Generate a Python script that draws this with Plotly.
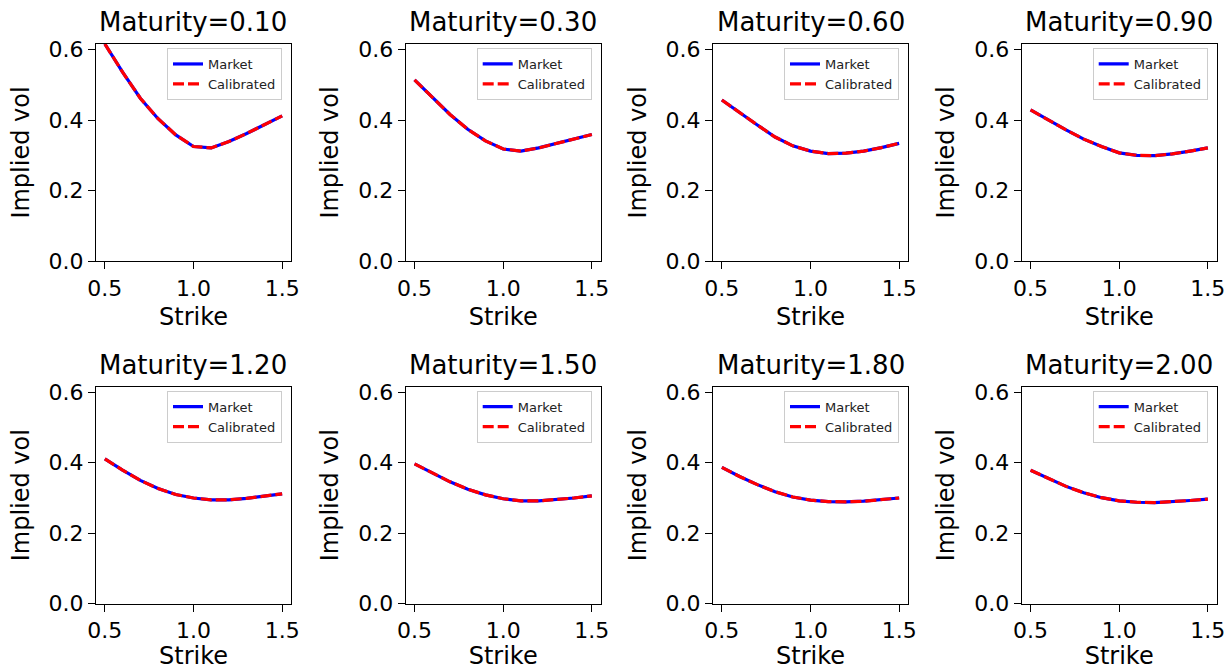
import plotly.graph_objects as go

# ---------------- data ----------------
strikes = [0.5, 0.6, 0.7, 0.8, 0.9, 1.0, 1.1, 1.2, 1.3, 1.4, 1.5]
maturities = [0.10, 0.30, 0.60, 0.90, 1.20, 1.50, 1.80, 2.00]

market_T010 = [0.616, 0.536, 0.462, 0.404, 0.358, 0.325, 0.321, 0.339, 0.362, 0.387, 0.412]
market_T030 = [0.514, 0.465, 0.416, 0.374, 0.341, 0.318, 0.312, 0.321, 0.333, 0.346, 0.359]
market_T060 = [0.457, 0.421, 0.386, 0.352, 0.327, 0.312, 0.305, 0.306, 0.312, 0.322, 0.334]
market_T090 = [0.429, 0.400, 0.372, 0.346, 0.325, 0.307, 0.300, 0.299, 0.304, 0.312, 0.321]
market_T120 = [0.411, 0.379, 0.350, 0.327, 0.310, 0.300, 0.295, 0.295, 0.299, 0.305, 0.312]
market_T150 = [0.397, 0.371, 0.346, 0.325, 0.309, 0.298, 0.292, 0.292, 0.295, 0.300, 0.306]
market_T180 = [0.387, 0.361, 0.338, 0.318, 0.303, 0.294, 0.290, 0.289, 0.291, 0.295, 0.300]
market_T200 = [0.379, 0.355, 0.333, 0.315, 0.301, 0.292, 0.288, 0.287, 0.289, 0.293, 0.297]

calibrated_T010 = [0.616, 0.536, 0.462, 0.404, 0.358, 0.325, 0.321, 0.339, 0.362, 0.387, 0.412]
calibrated_T030 = [0.514, 0.465, 0.416, 0.374, 0.341, 0.318, 0.312, 0.321, 0.333, 0.346, 0.359]
calibrated_T060 = [0.457, 0.421, 0.386, 0.352, 0.327, 0.312, 0.305, 0.306, 0.312, 0.322, 0.334]
calibrated_T090 = [0.429, 0.400, 0.372, 0.346, 0.325, 0.307, 0.300, 0.299, 0.304, 0.312, 0.321]
calibrated_T120 = [0.411, 0.379, 0.350, 0.327, 0.310, 0.300, 0.295, 0.295, 0.299, 0.305, 0.312]
calibrated_T150 = [0.397, 0.371, 0.346, 0.325, 0.309, 0.298, 0.292, 0.292, 0.295, 0.300, 0.306]
calibrated_T180 = [0.387, 0.361, 0.338, 0.318, 0.303, 0.294, 0.290, 0.289, 0.291, 0.295, 0.300]
calibrated_T200 = [0.379, 0.355, 0.333, 0.315, 0.301, 0.292, 0.288, 0.287, 0.289, 0.293, 0.297]

market_sets = [market_T010, market_T030, market_T060, market_T090,
               market_T120, market_T150, market_T180, market_T200]
calibrated_sets = [calibrated_T010, calibrated_T030, calibrated_T060, calibrated_T090,
                   calibrated_T120, calibrated_T150, calibrated_T180, calibrated_T200]

x_ticks = [0.5, 1.0, 1.5]
y_ticks = [0.0, 0.2, 0.4, 0.6]

# ---------------- layout geometry ----------------
W, H = 1228, 670
col_left = [96, 405.7, 713, 1021.7]
ax_w = 195
row_top = [44, 386.7]
ax_h = 217

FONT = "DejaVu Sans"
fig = go.Figure()
layout_extra = {}
annotations = []

for i, T in enumerate(maturities):
    r, c = divmod(i, 4)
    n = i + 1
    xa = "x" if n == 1 else f"x{n}"
    ya = "y" if n == 1 else f"y{n}"
    lg = "legend" if n == 1 else f"legend{n}"
    x0, x1 = col_left[c] / W, (col_left[c] + ax_w) / W
    ytop = row_top[r]
    y0, y1 = 1 - (ytop + ax_h) / H, 1 - ytop / H

    fig.add_trace(go.Scatter(x=strikes, y=market_sets[i], mode="lines", name="Market",
                             line=dict(color="#0000ff", width=3.2), xaxis=xa, yaxis=ya,
                             legend=lg))
    fig.add_trace(go.Scatter(x=strikes, y=calibrated_sets[i], mode="lines", name="Calibrated",
                             line=dict(color="#ff0000", width=3.2, dash="11px,4px"),
                             xaxis=xa, yaxis=ya, legend=lg))

    axkey = "xaxis" if n == 1 else f"xaxis{n}"
    aykey = "yaxis" if n == 1 else f"yaxis{n}"
    common = dict(showline=True, mirror=True, linecolor="black", linewidth=1.2,
                  ticks="outside", ticklen=7, tickwidth=1.2, tickcolor="black",
                  showgrid=False, zeroline=False, automargin=False,
                  tickfont=dict(family=FONT, size=22, color="black"))
    layout_extra[axkey] = dict(domain=[x0, x1], anchor=ya, range=[0.45, 1.55],
                               tickvals=x_ticks, tickformat=".1f",
                               title=dict(text="Strike", standoff=8,
                                          font=dict(family=FONT, size=24, color="black")),
                               **common)
    layout_extra[aykey] = dict(domain=[y0, y1], anchor=xa, range=[0, 0.616],
                               tickvals=y_ticks, tickformat=".1f",
                               title=dict(text="Implied vol", standoff=12,
                                          font=dict(family=FONT, size=24, color="black")),
                               **common)
    layout_extra[lg] = dict(x=(col_left[c] + ax_w - 9) / W, y=1 - (ytop + 4) / H,
                            xanchor="right", yanchor="top",
                            bgcolor="rgba(255,255,255,0.8)", bordercolor="#cccccc",
                            borderwidth=1, font=dict(family=FONT, size=13, color="#222"),
                            itemwidth=30, tracegroupgap=0)
    annotations.append(dict(text=f"Maturity={T:.2f}", xref="paper", yref="paper",
                            x=(col_left[c] + ax_w / 2) / W, y=1 - (ytop - 5) / H,
                            xanchor="center", yanchor="bottom", showarrow=False,
                            font=dict(family=FONT, size=26, color="black")))

fig.update_layout(width=W, height=H, margin=dict(l=0, r=0, t=0, b=0, autoexpand=False),
                  paper_bgcolor="white", plot_bgcolor="white",
                  annotations=annotations, **layout_extra)

fig.write_html("out.html")
